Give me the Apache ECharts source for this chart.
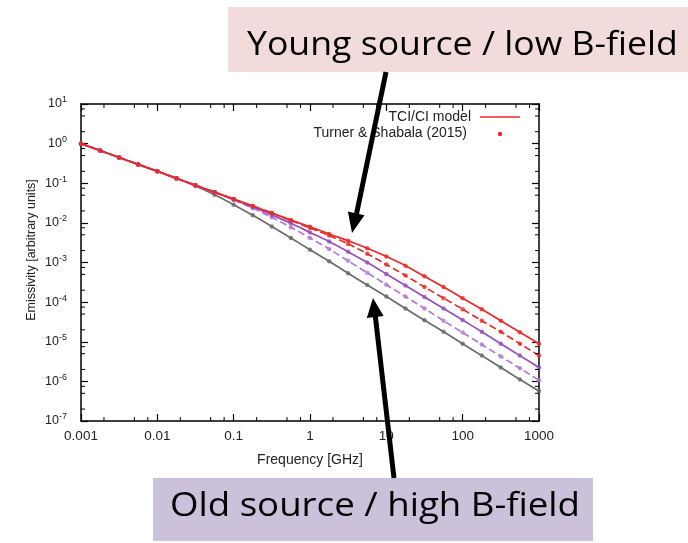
<!DOCTYPE html>
<html><head><meta charset="utf-8">
<script src="https://cdn.jsdelivr.net/npm/echarts@6/dist/echarts.min.js"></script>
<style>html,body{margin:0;padding:0;background:#fff}#c{width:688px;height:543px}</style>
</head><body><div id="c"></div>
<script>
const freqs = [0.001, 0.00178, 0.00316, 0.00562, 0.01, 0.0178, 0.0316, 0.0562, 0.1, 0.178, 0.316, 0.562, 1, 1.78, 3.16, 5.62, 10, 17.8, 31.6, 56.2, 100, 178, 316, 562, 1000];
const graySolid = [1, 0.668, 0.447, 0.299, 0.200, 0.132, 0.0851, 0.0513, 0.0288, 0.0155, 0.00813, 0.00417, 0.00209, 0.00107, 5.37e-4, 2.69e-4, 1.38e-4, 6.92e-5, 3.47e-5, 1.78e-5, 8.91e-6, 4.47e-6, 2.24e-6, 1.12e-6, 5.75e-7];
const purpleDashed = [1, 0.668, 0.447, 0.299, 0.200, 0.133, 0.0891, 0.0589, 0.0380, 0.0234, 0.0138, 0.00776, 0.00417, 0.00219, 0.00110, 5.50e-4, 2.75e-4, 1.38e-4, 6.92e-5, 3.39e-5, 1.70e-5, 8.51e-6, 4.27e-6, 2.14e-6, 1.07e-6];
const purpleSolid = [1, 0.668, 0.447, 0.299, 0.200, 0.133, 0.0891, 0.0596, 0.0389, 0.0251, 0.0158, 0.00977, 0.00575, 0.00339, 0.00186, 0.00100, 5.13e-4, 2.63e-4, 1.35e-4, 6.92e-5, 3.55e-5, 1.78e-5, 8.91e-6, 4.47e-6, 2.24e-6];
const redDashed = [1, 0.668, 0.447, 0.299, 0.200, 0.133, 0.0891, 0.0596, 0.0398, 0.0266, 0.0178, 0.0115, 0.00741, 0.00479, 0.00295, 0.00166, 8.91e-4, 4.68e-4, 2.40e-4, 1.26e-4, 6.61e-5, 3.39e-5, 1.78e-5, 8.91e-6, 4.47e-6];
const redSolid = [1, 0.668, 0.447, 0.299, 0.200, 0.133, 0.0891, 0.0596, 0.0398, 0.0266, 0.0178, 0.0117, 0.00794, 0.00525, 0.00355, 0.00229, 0.00141, 8.32e-4, 4.47e-4, 2.40e-4, 1.26e-4, 6.61e-5, 3.39e-5, 1.74e-5, 8.91e-6];
const xTickLabels = ['0.001', '0.01', '0.1', '1', '10', '100', '1000'];
const yTickExponents = ['-7', '-6', '-5', '-4', '-3', '-2', '-1', '0', '1'];
const xMinorTicks = [0.002, 0.005, 0.0075, 0.02, 0.05, 0.075, 0.2, 0.5, 0.75, 2, 5, 7.5, 20, 50, 75, 200, 500, 750];
const yMinorTicks = [2e-7, 5e-7, 7.5e-7, 2e-6, 5e-6, 7.5e-6, 2e-5, 5e-5, 7.5e-5, 2e-4, 5e-4, 7.5e-4, 2e-3, 5e-3, 7.5e-3, 2e-2, 5e-2, 7.5e-2, 0.2, 0.5, 0.75, 2, 5, 7.5];

const curves = [
  {name: 'gray', data: graySolid, color: '#6b6b6b', type: 'solid'},
  {name: 'purpleDashed', data: purpleDashed, color: '#b07ad4', type: 'dashed'},
  {name: 'purpleSolid', data: purpleSolid, color: '#9550bd', type: 'solid'},
  {name: 'redDashed', data: redDashed, color: '#ea2a2a', type: 'dashed'},
  {name: 'TCI/CI model', data: redSolid, color: '#ea2a2a', type: 'solid'}
];
const series = [];
curves.forEach(function (c) {
  series.push({
    type: 'line', name: c.name, data: freqs.map(function (f, i) { return [f, c.data[i]]; }),
    showSymbol: false, smooth: 0.3, z: 3,
    lineStyle: {color: c.color, width: 1.7, type: c.type},
    itemStyle: {color: c.color}
  });
  series.push({
    type: 'scatter', name: c.name === 'TCI/CI model' ? 'Turner & Shabala (2015)' : c.name + 'Pts',
    data: freqs.map(function (f, i) { return [f, c.data[i]]; }),
    symbol: 'circle', symbolSize: 4.5, z: 4,
    itemStyle: {color: c.color}
  });
});
// minor ticks (log-spaced) on all four sides
series.push({
  type: 'custom', name: 'xMinor', clip: false, silent: true, z: 5,
  data: xMinorTicks.map(function (v) { return [v, 1]; }),
  renderItem: function (params, api) {
    const b = api.coord([api.value(0), 1e-7]);
    const t = api.coord([api.value(0), 10]);
    return {type: 'group', children: [
      {type: 'line', shape: {x1: b[0], y1: b[1], x2: b[0], y2: b[1] - 4}, style: {stroke: '#000', lineWidth: 1}},
      {type: 'line', shape: {x1: t[0], y1: t[1], x2: t[0], y2: t[1] + 4}, style: {stroke: '#000', lineWidth: 1}}
    ]};
  }
});
series.push({
  type: 'custom', name: 'yMinor', clip: false, silent: true, z: 5,
  data: yMinorTicks.map(function (v) { return [1, v]; }),
  renderItem: function (params, api) {
    const l = api.coord([0.001, api.value(1)]);
    const r = api.coord([1000, api.value(1)]);
    return {type: 'group', children: [
      {type: 'line', shape: {x1: l[0], y1: l[1], x2: l[0] + 4, y2: l[1]}, style: {stroke: '#000', lineWidth: 1}},
      {type: 'line', shape: {x1: r[0], y1: r[1], x2: r[0] - 4, y2: r[1]}, style: {stroke: '#000', lineWidth: 1}}
    ]};
  }
});

const tickFont = {fontFamily: 'Liberation Sans', fontSize: 13.5, color: '#222'};
function xFmt(v) { const e = Math.round(Math.log10(v)); return xTickLabels[e + 3] || ''; }
function yFmt(v) { const e = Math.round(Math.log10(v)); return '{b|10}{s|' + yTickExponents[e + 7] + '}'; }
const axisLine = {show: true, lineStyle: {color: '#000', width: 1.5}};
const majorTick = {inside: true, length: 7, lineStyle: {color: '#000', width: 1.2}};

const chart = echarts.init(document.getElementById('c'));
chart.setOption({
  animation: false,
  backgroundColor: '#fff',
  grid: {left: 81, right: 149, top: 104, bottom: 122},
  xAxis: [
    {type: 'log', min: 0.001, max: 1000, logBase: 10, axisLine: axisLine, axisTick: majorTick,
     splitLine: {show: false},
     axisLabel: Object.assign({formatter: xFmt, margin: 8}, tickFont),
     name: 'Frequency [GHz]', nameLocation: 'middle', nameGap: 32,
     nameTextStyle: {fontFamily: 'Liberation Sans', fontSize: 14, color: '#222'}},
    {type: 'log', min: 0.001, max: 1000, logBase: 10, position: 'top', axisLine: axisLine, axisTick: majorTick,
     splitLine: {show: false}, axisLabel: {show: false}}
  ],
  yAxis: [
    {type: 'log', min: 1e-7, max: 10, logBase: 10, axisLine: axisLine, axisTick: majorTick,
     splitLine: {show: false},
     axisLabel: {formatter: yFmt, margin: 14, rich: {
       b: {fontFamily: 'Liberation Sans', fontSize: 12.5, color: '#222'},
       s: {fontFamily: 'Liberation Sans', fontSize: 9, color: '#222', padding: [0, 0, 8, 0]}}}},
    {type: 'log', min: 1e-7, max: 10, logBase: 10, position: 'right', axisLine: axisLine, axisTick: majorTick,
     splitLine: {show: false}, axisLabel: {show: false}}
  ],
  series: series,
  graphic: [
    {type: 'text', x: 32, y: 250, rotation: Math.PI / 2, z: 10,
     style: {text: 'Emissivity [arbitrary units]', fontFamily: 'Liberation Sans', fontSize: 12.5, fill: '#222', align: 'center', verticalAlign: 'middle'}},
    {type: 'text', x: 471, y: 117, z: 10,
     style: {text: 'TCI/CI model', fontFamily: 'Liberation Sans', fontSize: 14, fill: '#222', align: 'right', verticalAlign: 'middle'}},
    {type: 'line', z: 10, shape: {x1: 480, y1: 117, x2: 520, y2: 117}, style: {stroke: '#ea2a2a', lineWidth: 1.6}},
    {type: 'text', x: 467, y: 133, z: 10,
     style: {text: 'Turner & Shabala (2015)', fontFamily: 'Liberation Sans', fontSize: 14, fill: '#222', align: 'right', verticalAlign: 'middle'}},
    {type: 'circle', z: 10, shape: {cx: 500, cy: 134, r: 2.2}, style: {fill: '#ea2a2a'}},
    {type: 'rect', z: 20, shape: {x: 228, y: 7, width: 460, height: 65}, style: {fill: '#f2dcdb'}},
    {type: 'text', z: 21, x: 247, y: 46, scaleX: 1.08,
     style: {text: 'Young source / low B-field', fontFamily: 'Open Sans', fontSize: 33, fill: '#000', align: 'left', verticalAlign: 'middle'}},
    {type: 'rect', z: 20, shape: {x: 153, y: 478, width: 440, height: 63}, style: {fill: '#ccc1da'}},
    {type: 'text', z: 21, x: 170, y: 507, scaleX: 1.11,
     style: {text: 'Old source / high B-field', fontFamily: 'Open Sans', fontSize: 33, fill: '#000', align: 'left', verticalAlign: 'middle'}},
    {type: 'line', z: 22, shape: {x1: 386, y1: 72, x2: 356.5, y2: 214}, style: {stroke: '#000', lineWidth: 5}},
    {type: 'polygon', z: 22, shape: {points: [[352, 233], [364.5, 215.2], [347.9, 211.6]]}, style: {fill: '#000'}},
    {type: 'line', z: 22, shape: {x1: 394, y1: 478, x2: 375.3, y2: 316}, style: {stroke: '#000', lineWidth: 5}},
    {type: 'polygon', z: 22, shape: {points: [[373, 298], [383.6, 315.9], [366.8, 317.9]]}, style: {fill: '#000'}}
  ]
});
</script>
</body></html>
